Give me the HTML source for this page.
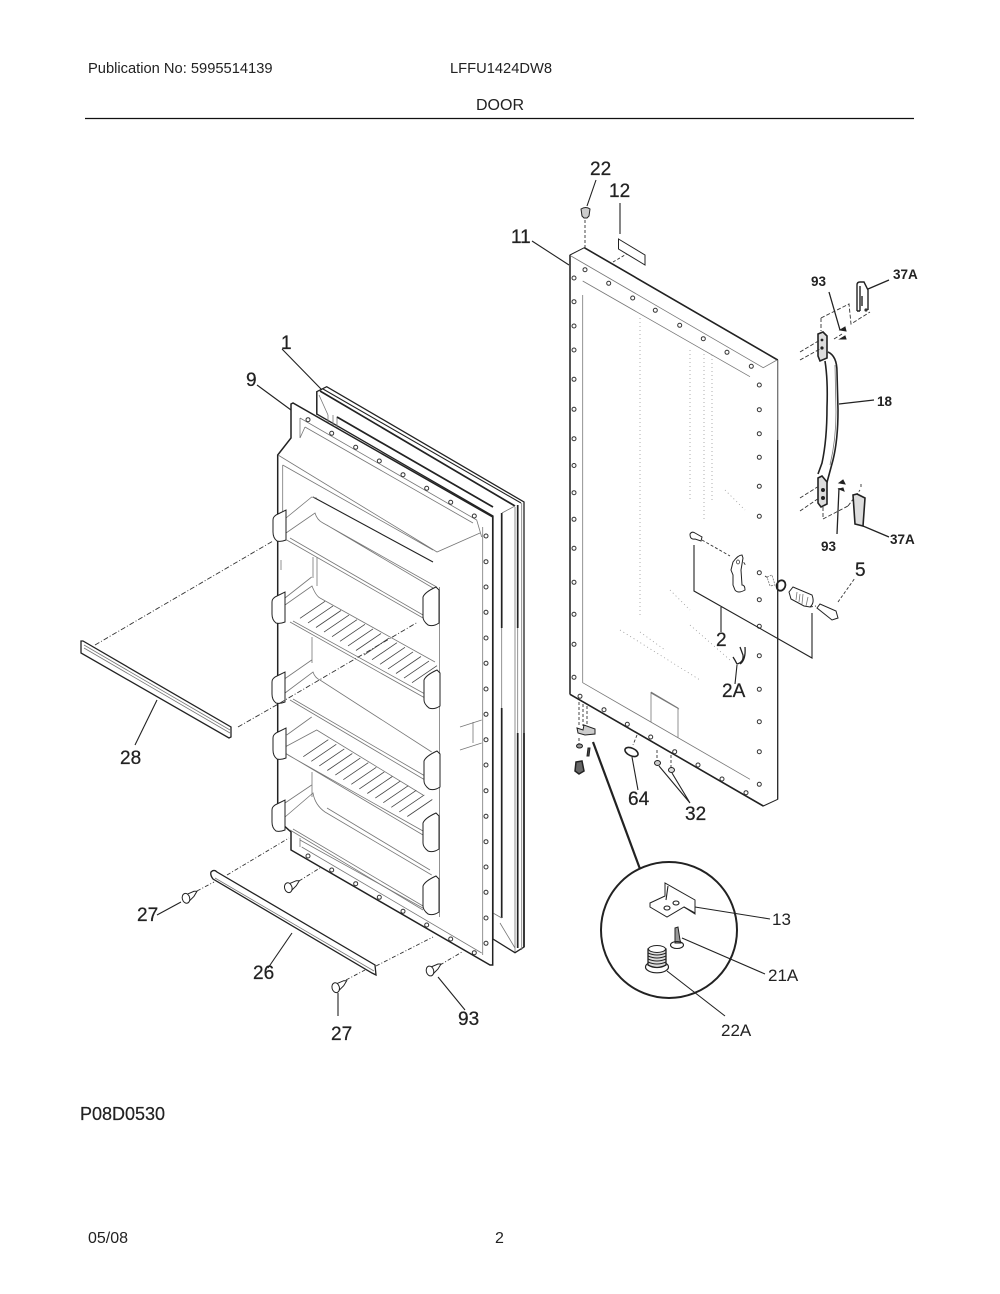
<!DOCTYPE html>
<html><head><meta charset="utf-8"><style>
html,body{margin:0;padding:0;background:#fff}
svg{display:block}
text{font-family:"Liberation Sans",sans-serif;fill:#222}
.h{font-size:14.7px}
.h2{font-size:16px}
.l{font-size:19px;stroke:#222;stroke-width:.25}
.b{font-size:13.5px;font-weight:bold}
.s{font-size:17px}
.k{fill:none;stroke:#222;stroke-width:1.1}
.t{fill:none;stroke:#222;stroke-width:1.7}
.g{fill:none;stroke:#777;stroke-width:.8}
.p{fill:none;stroke:#999;stroke-width:.8;stroke-dasharray:1 3}
.d{fill:none;stroke:#333;stroke-width:.9;stroke-dasharray:6 3}
.f{fill:#fff;stroke:#222;stroke-width:1}
.o{fill:#fff;stroke:#333;stroke-width:1}
</style></head><body>
<svg width="1000" height="1294" viewBox="0 0 1000 1294" xmlns="http://www.w3.org/2000/svg">
<defs>
<circle id="o" r="2" class="o"/>
<path id="rc" d="M0,10Q2,5 13,0L16,3V36Q10,40 5,38Q0,34 0,30Z" class="f"/>
<path id="lc" d="M0,10Q0,6 5,4L13,0V30Q8,32 4,31Q0,28 0,22Z" class="f"/>
<g id="sc"><path d="M1,-4L8,-7L11,-7L8,-2L3,3Z" class="f"/><ellipse cx="0" cy="0" rx="3.7" ry="5" class="f" transform="rotate(-15)"/></g>
</defs>
<rect width="1000" height="1294" fill="#fff"/>
<text x="88" y="73" class="h">Publication No: 5995514139</text>
<text x="450" y="73" class="h">LFFU1424DW8</text>
<text x="500" y="110" class="h2" text-anchor="middle">DOOR</text>
<line x1="85" y1="118.5" x2="914" y2="118.5" stroke="#111" stroke-width="1.2"/>
<text x="80" y="1120" style="font-size:18px;stroke:#222;stroke-width:.2">P08D0530</text>
<text x="88" y="1243" class="h2">05/08</text>
<text x="495" y="1243" class="h2">2</text>

<!-- gasket part 1 -->
<path class="f" d="M316.7,391.7L326.7,386.7L524,502V947L515,952.7L493,939V516L316.7,414Z" style="stroke-width:1.3"/>
<path class="t" d="M320,391L515,506"/>
<path class="k" d="M323,389L521,503M317,415V392"/>
<path class="g" d="M319,395L328,415M328,415V428M333,415V432M337,417V434M336.7,416.7L493,506.7M515,506L502,513"/>
<path class="t" d="M337,417L493,507"/>
<path class="t" d="M501.7,513V628M517.7,505V628M501.7,708V918M517.7,733V948M524,733V947"/>
<path class="g" d="M501.7,628V708M517.7,628V733M515,507V952M521.7,503V950M493,913L501.7,918M500,923L515,948"/>

<!-- panel 9 -->
<path d="M291,404L293,403L492.7,517V965L490,965L291,850V832L277.7,820V455L291,438Z" class="f" style="stroke-width:1.5"/>
<path class="g" d="M300,418V438M300,418L476.7,520L481.7,537M305,427L473,523M305,427L300,438M278,455L437,552L480,533M282.7,465L433,550M282.7,465V513M281,560V570M482.7,527V955M300,838V847M300,840L430,912M301.7,847L481.7,953M460,727L481.7,720M460,750L481.7,743M473,722V743M439.5,587V917"/>
<use href="#o" x="308" y="419.7"/><use href="#o" x="331.7" y="433.3"/><use href="#o" x="355.7" y="447.3"/><use href="#o" x="379.3" y="461"/><use href="#o" x="403" y="474.7"/><use href="#o" x="426.7" y="488.3"/><use href="#o" x="450.7" y="502.3"/><use href="#o" x="474.3" y="516"/>
<use href="#o" x="486" y="536"/><use href="#o" x="486" y="561.7"/><use href="#o" x="486" y="587"/><use href="#o" x="486" y="612.3"/><use href="#o" x="486" y="638"/><use href="#o" x="486" y="663.3"/><use href="#o" x="486" y="689"/><use href="#o" x="486" y="714.3"/><use href="#o" x="486" y="739.7"/><use href="#o" x="486" y="765"/><use href="#o" x="486" y="790.7"/><use href="#o" x="486" y="816.3"/><use href="#o" x="486" y="841.7"/><use href="#o" x="486" y="867"/><use href="#o" x="486" y="892.3"/><use href="#o" x="486" y="918"/><use href="#o" x="486" y="943.3"/>
<use href="#o" x="308" y="856"/><use href="#o" x="331.7" y="870"/><use href="#o" x="355.7" y="883.7"/><use href="#o" x="379.3" y="897.3"/><use href="#o" x="403" y="911.3"/><use href="#o" x="426.7" y="925"/><use href="#o" x="450.7" y="939"/><use href="#o" x="474.3" y="952.7"/>

<!-- shelves -->
<path class="k" d="M313,497L433,562"/>
<path class="g" d="M286,518L311.7,497L316.7,498M286,533L315,513Q317,520 323,523L436.7,587M326.7,525L433,588M286.7,540L423,618M290,538L423,615"/>
<path class="g" d="M313,557V578M317,557V586M285,598L311.7,577M285,605L312,586Q316,596 320,598L435,662M290,622L425,698M293,621L425,694"/>
<path class="g" d="M312,637V663M283,680L311.7,660M285,693L313,672Q315,678 320,680L431.7,752M290,700L425,780M293,699L425,776"/>
<path class="g" d="M286.7,735L311.7,717M285,747L316.7,730L423,795M285,753L423,835M288,755L423,831M312,772V797"/>
<path class="g" d="M285,803L311.7,785M285,817L313,793Q315,805 325,812L431.7,875M327,808L430,870M290,830L423,910M293,829L423,906"/>
<path fill="none" stroke="#444" stroke-width=".8" d="M300,618.3l25,-17m-17,21.6l25,-17m-17,21.6l25,-17m-17,21.6l25,-17m-17,21.6l25,-17m-17,21.6l25,-17m-17,21.6l25,-17m-17,21.6l25,-17m-17,21.6l25,-17m-17,21.6l25,-17m-17,21.6l25,-17m-17,21.6l25,-17m-17,21.6l25,-17m-17,21.6l25,-17m-17,21.6l25,-17"/>
<path fill="none" stroke="#444" stroke-width=".8" d="M303.3,756.7l25,-17m-17,21.6l25,-17m-17,21.6l25,-17m-17,21.6l25,-17m-17,21.6l25,-17m-17,21.6l25,-17m-17,21.6l25,-17m-17,21.6l25,-17m-17,21.6l25,-17m-17,21.6l25,-17m-17,21.6l25,-17m-17,21.6l25,-17m-17,21.6l25,-17m-17,21.6l25,-17"/>
<use href="#lc" x="273" y="510"/><use href="#rc" x="423" y="587"/>
<use href="#lc" x="272" y="592"/><use href="#rc" x="424" y="670"/>
<use href="#lc" x="272" y="672"/><use href="#rc" x="424" y="751"/>
<use href="#lc" x="273" y="728"/><use href="#rc" x="423" y="813"/>
<use href="#lc" x="272" y="800"/><use href="#rc" x="423" y="876"/>

<!-- strip 28 -->
<path class="f" d="M81,641L83,641L231,727V737L229,738L81,653Z" style="stroke-width:1.3"/>
<path class="g" d="M84,645L230,730M84,648L230,733"/>
<path class="d" d="M95,645L273,541M238,727L280,703M280,703L418,622" style="stroke-dasharray:5 2 1 2"/>
<line class="k" x1="157" y1="700" x2="135" y2="745"/>
<!-- strip 26 -->
<path class="f" d="M211,872Q214,869 217,872L375,965L376,975L372,973L213,879Q210,875 211,872Z" style="stroke-width:1.3"/>
<path class="g" d="M215,878L374,971"/>
<path class="d" d="M227,875L289,838M376,966L433,937M197,891L214,882M346,980L365,970M299,881L320,868M440,965L462,952" style="stroke-dasharray:4 2 1 2"/>
<line class="k" x1="292" y1="933" x2="268" y2="968"/>
<!-- screws -->
<use href="#sc" x="186" y="898.3"/>
<use href="#sc" x="288.3" y="887.7"/>
<use href="#sc" x="335.7" y="987.7"/>
<use href="#sc" x="430" y="971"/>
<path class="k" d="M157,915L181,902M338,993L338,1016M438,977L465,1010M282,349L322,390M257,385L291,410"/>

<!-- right door -->
<path class="f" d="M570,255L584.3,247.7L777.7,360V799.3L763.3,806L570,694.3Z"/>
<path fill="none" stroke="#222" stroke-width="1.6" d="M584.3,247.7L777.7,360M570,694.3L763.3,806"/>
<path fill="none" stroke="#555" stroke-width="2" d="M570,255V694"/>
<path class="k" d="M777.7,440V799.3"/>
<path class="g" d="M571,256L763.3,367.7L777,360M777.7,360V440M582.7,281L750,376.7M582.7,295V682.7L750,779.3"/>
<path class="g" d="M651,692L678,708V738M651,692V722M651,693L679,709"/>
<path class="p" d="M640,318V615M690,350V500M704,350V520M712,355V500M725,490L745,510M670,590L690,610M640,632L665,650M620,630L700,680M690,625L730,660"/>
<use href="#o" x="585" y="269.7"/><use href="#o" x="608.7" y="283.3"/><use href="#o" x="632.7" y="298"/><use href="#o" x="655.3" y="310.3"/><use href="#o" x="679.7" y="325.3"/><use href="#o" x="703.3" y="338.7"/><use href="#o" x="727" y="352.3"/><use href="#o" x="751.3" y="366.3"/>
<use href="#o" x="574" y="278"/><use href="#o" x="574" y="301.7"/><use href="#o" x="574" y="326"/><use href="#o" x="574" y="350"/><use href="#o" x="574" y="379.3"/><use href="#o" x="574" y="409.3"/><use href="#o" x="574" y="438.7"/><use href="#o" x="574" y="465.5"/><use href="#o" x="574" y="492.7"/><use href="#o" x="574" y="519.3"/><use href="#o" x="574" y="548.3"/><use href="#o" x="574" y="582.3"/><use href="#o" x="574" y="614.3"/><use href="#o" x="574" y="644.3"/><use href="#o" x="574" y="677.3"/>
<use href="#o" x="759.3" y="385"/><use href="#o" x="759.3" y="409.7"/><use href="#o" x="759.3" y="433.7"/><use href="#o" x="759.3" y="457.3"/><use href="#o" x="759.3" y="486.3"/><use href="#o" x="759.3" y="516.3"/><use href="#o" x="759.3" y="572.7"/><use href="#o" x="759.3" y="599.7"/><use href="#o" x="759.3" y="626.3"/><use href="#o" x="759.3" y="655.7"/><use href="#o" x="759.3" y="689.3"/><use href="#o" x="759.3" y="721.7"/><use href="#o" x="759.3" y="751.7"/><use href="#o" x="759.3" y="784.3"/>
<use href="#o" x="580" y="696.3"/><use href="#o" x="604" y="709.7"/><use href="#o" x="627.3" y="724.3"/><use href="#o" x="650.7" y="737"/><use href="#o" x="674.7" y="751.7"/><use href="#o" x="698" y="765"/><use href="#o" x="722" y="779"/><use href="#o" x="746" y="792.7"/>

<!-- top parts -->
<path d="M581,209Q586,206 590,209L589,216L587,218H584L582,216Z" fill="#ccc" stroke="#222"/>
<path class="d" d="M585,220V250M613,262L630,252" style="stroke-dasharray:3 2"/>
<path class="f" d="M618.5,239L645,255V265L618.5,249Z"/>
<path class="k" d="M620,203V234M596,180L587,206M532,241L569,265"/>

<!-- handle -->
<path fill="none" stroke="#222" stroke-width="1.6" d="M828,352Q837,356 837,372L838,410Q838,440 833,460L826,486M825,361Q828,380 827,407Q827,440 822,463L818,474"/>
<path class="g" d="M835,365L836,412Q836,440 830,465"/>
<path d="M818,334L823,332L827,336V358L820,361L818,356Z" fill="#ddd" stroke="#222" stroke-width="1.6"/>
<circle cx="822" cy="340" r="1.4" fill="#222"/><circle cx="822" cy="348" r="1.6" fill="#222"/>
<path d="M818,478L822,476L827,482V504L821,507L818,503Z" fill="#ddd" stroke="#222" stroke-width="1.6"/>
<circle cx="823" cy="490" r="2" fill="#222"/><circle cx="823" cy="498" r="2" fill="#222"/>
<path class="d" d="M800,352L820,340M800,360L820,349M821,318L849,304L851,324L870,312M821,318V331M834,339L842,334M800,498L819,486M800,511L819,498M823,507L823,519L848,506M848,506L860,490M861,487V484" style="stroke-dasharray:4 2"/>
<path d="M840,330l5,-3l1,4zM840,339l5,-3l1,3z" fill="#222" stroke="#222"/>
<path d="M839,483l4,-3l2,4zM839,489l4,-1l1,3z" fill="#222" stroke="#222"/>
<path fill="none" stroke="#222" stroke-width="1.4" d="M857,311V285Q857,282 860,282H864L868,290V310M860,286V311M857,311H860M862,296V306"/>
<circle cx="866" cy="310" r="1.6" fill="#333"/>
<path d="M853,495L857,494L865,498L863,526L855,524Z" fill="#ddd" stroke="#222" stroke-width="1.6"/>
<path class="k" d="M868,289L889,280M863,526L889,537M829,292L840,330M837,534L839,488M839,404L874,400" style="stroke-width:1.3"/>

<!-- latch -->
<path class="f" d="M690,534Q692,531 695,533L702,537L701,541L695,539Q690,540 690,534Z"/>
<path class="d" d="M702,540L730,556M741,558L746,566M765,576L768,578M810,607L816,606M838,602L855,578" style="stroke-dasharray:3 2"/>
<path class="f" d="M733,562Q738,555 742,555L743,558L741,570L742,585Q745,585 745,590Q738,594 735,590L733,585V575L731,570Z"/>
<ellipse cx="738" cy="562" rx="1.5" ry="2" class="k" style="stroke-width:.7"/>
<path class="g" d="M767,577L772,575L775,585L770,586Z" stroke-dasharray="2 1"/>
<ellipse cx="781" cy="585.5" rx="4.3" ry="5.3" fill="none" stroke="#222" stroke-width="1.8" transform="rotate(20 781 585.5)"/>
<path class="f" d="M789,592L793,587L812,595Q815,603 810,607L804,606L791,599Z"/>
<path class="g" d="M797,592L796,600M800,594L799,602M803,594L802,604M808,597L806,606"/>
<path class="f" d="M817,608L820,604L836,611L838,618L832,620Z"/>
<path class="k" d="M694,545V591L812,658V613M721,607V632"/>
<path fill="none" stroke="#222" stroke-width="1.3" d="M740,647L743,655Q744,662 737,664Q735,660 733,657M745,647Q746,660 740,664"/>
<path class="k" d="M737,665L735,684"/>

<!-- lower small parts -->
<path class="d" d="M579,702V725M583,704V726M587,706V733M579,738V745M637,735L633,745M657,750V758M671,755V768" style="stroke-dasharray:3 2"/>
<path d="M577,728L583,730L584,725L595,729V734L585,735L578,733Z" fill="#ccc" stroke="#222"/>
<ellipse cx="579.5" cy="746" rx="3" ry="2" fill="#999" stroke="#222"/>
<path d="M588,748L590,748L589,756L587,756Z" fill="#444" stroke="#222"/>
<path d="M576,762L582,761L584,771L579,774L575,771Z" fill="#666" stroke="#222" stroke-width="1.5"/>
<ellipse cx="631.5" cy="752" rx="7" ry="3.8" fill="none" stroke="#222" stroke-width="1.6" transform="rotate(25 631.5 752)"/>
<ellipse cx="657.5" cy="763" rx="3" ry="2.5" fill="#ccc" stroke="#222"/>
<ellipse cx="671.5" cy="770" rx="3" ry="2.5" fill="#ddd" stroke="#222"/>
<path class="k" d="M632,757L638,790M659,766L690,803M672,773L690,803"/>
<line x1="593" y1="742" x2="640" y2="869" stroke="#222" stroke-width="2.2"/>
<circle cx="669" cy="930" r="68" fill="#fff" stroke="#222" stroke-width="2"/>
<!-- detail -->
<path class="f" d="M650,903L665,896L665,883L695,900V914L684,907L667,917L650,907Z"/>
<path class="k" d="M666,900L668,886M684,907L695,913"/>
<ellipse cx="667" cy="908" rx="3" ry="2" class="k"/><ellipse cx="676" cy="903" rx="3" ry="2" class="k"/>
<path d="M675,928L678,927L680,940L681,943L675,943Z" fill="#999" stroke="#222"/>
<ellipse cx="677" cy="945" rx="6.5" ry="3.5" class="k"/>
<ellipse cx="657" cy="967" rx="11.5" ry="5.8" fill="#fff" stroke="#222" stroke-width="1.2"/>
<path d="M648,949V965Q657,970 666,965V949Z" fill="#ddd" stroke="#222" stroke-width="1.3"/>
<path class="k" d="M648,953Q657,957 666,953M648,956Q657,960 666,956M648,959Q657,963 666,959M648,962Q657,966 666,962"/>
<ellipse cx="657" cy="949" rx="8.5" ry="3.5" fill="#fff" stroke="#222"/>
<path class="k" d="M695,907L770,919M682,938L765,974M667,971L725,1016"/>

<!-- labels -->
<text x="590" y="175" class="l">22</text>
<text x="609" y="197" class="l">12</text>
<text x="511" y="243" class="l">11</text>
<text x="281" y="349" class="l">1</text>
<text x="246" y="386" class="l">9</text>
<text x="120" y="764" class="l">28</text>
<text x="137" y="921" class="l">27</text>
<text x="253" y="979" class="l">26</text>
<text x="331" y="1040" class="l">27</text>
<text x="458" y="1025" class="l">93</text>
<text x="628" y="805" class="l">64</text>
<text x="685" y="820" class="l">32</text>
<text x="716" y="646" class="l">2</text>
<text x="722" y="697" class="l">2A</text>
<text x="855" y="576" class="l">5</text>
<text x="811" y="286" class="b">93</text>
<text x="893" y="279" class="b">37A</text>
<text x="877" y="406" class="b">18</text>
<text x="821" y="551" class="b">93</text>
<text x="890" y="544" class="b">37A</text>
<text x="772" y="925" class="s">13</text>
<text x="768" y="981" class="s">21A</text>
<text x="721" y="1036" class="s">22A</text>
</svg>
</body></html>
